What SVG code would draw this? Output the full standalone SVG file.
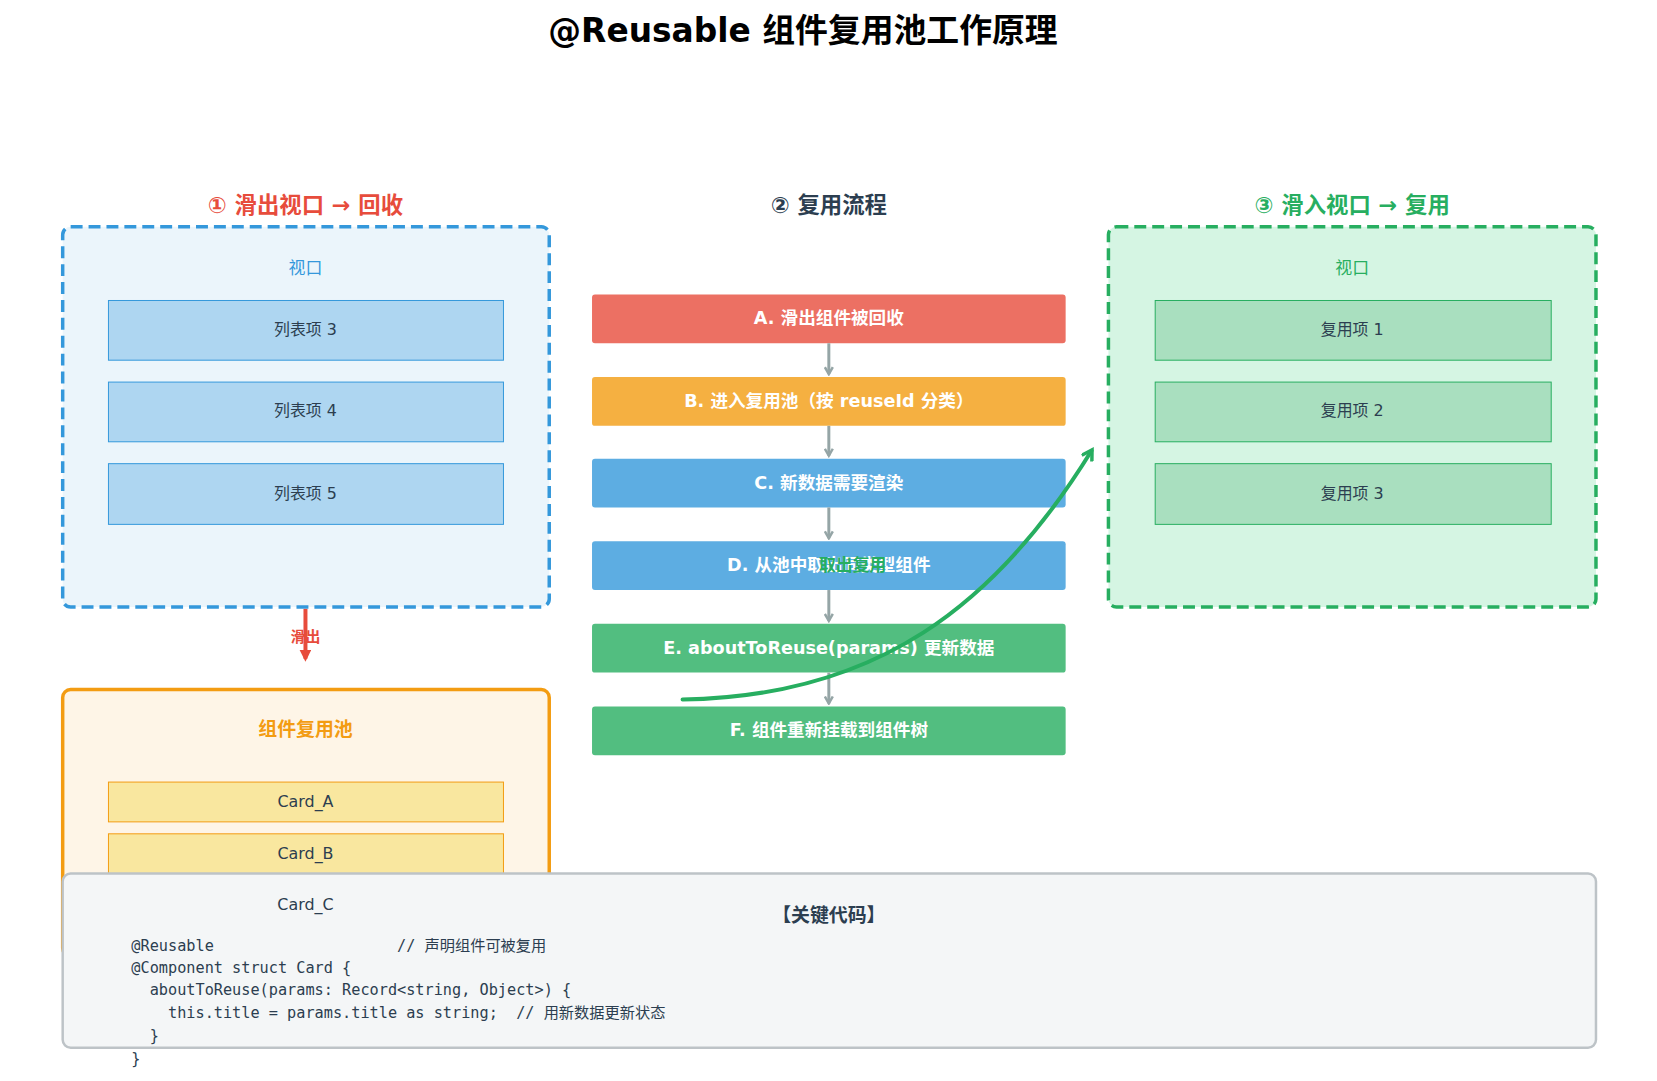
<svg xmlns="http://www.w3.org/2000/svg" width="1657" height="1081" viewBox="0 0 1657 1081">
<defs>
<style>
text{font-family:"DejaVu Sans","Noto Sans CJK SC",sans-serif;text-anchor:middle;dominant-baseline:central}
.hdr{font-size:22.5px;font-weight:bold}
.item{font-size:16px;fill:#2c3e50}
.flow{font-size:17.7px;font-weight:bold;fill:#fff}
.code{font-family:"DejaVu Sans Mono","Noto Sans CJK SC",monospace;font-size:15.3px;fill:#2c3e50;text-anchor:start;dominant-baseline:auto}
.fa{stroke:#95a5a6;stroke-width:3;fill:none;marker-end:url(#ga)}
</style>
<marker id="ga" markerWidth="10" markerHeight="10" refX="8" refY="5" orient="auto" markerUnits="userSpaceOnUse"><path d="M1,1 L8,5 L1,9" fill="none" stroke="#95a5a6" stroke-width="2.5"/></marker>
<marker id="ra" markerWidth="12" markerHeight="12" refX="9" refY="6" orient="auto" markerUnits="userSpaceOnUse"><path d="M0,0 L12,6 L0,12 z" fill="#e74c3c"/></marker>
<marker id="gr" markerWidth="14" markerHeight="14" refX="10" refY="7" orient="auto" markerUnits="userSpaceOnUse"><path d="M1,1 L11,7 L1,13" fill="none" stroke="#27ae60" stroke-width="3.5"/></marker>
</defs>
<rect width="1657" height="1081" fill="#fff"/>
<g transform="scale(0.995)">
<text x="807" y="31" style="font-size:33px;font-weight:bold;fill:#000">@Reusable 组件复用池工作原理</text>
<text x="307" y="206" class="hdr" fill="#e74c3c">① 滑出视口 → 回收</text>
<text x="833" y="206" class="hdr" fill="#2c3e50">② 复用流程</text>
<text x="1359" y="206" class="hdr" fill="#27ae60">③ 滑入视口 → 复用</text>

<g id="viewport-out">
<rect x="63" y="228" width="489" height="382" rx="8" fill="#ebf5fb" stroke="#3498db" stroke-width="3.5" stroke-dasharray="12,6"/>
<text x="307" y="269" font-size="17" fill="#3498db">视口</text>
<rect x="109" y="302" width="397" height="60" fill="#aed6f1" stroke="#3498db"/><text x="307" y="331" class="item">列表项 3</text>
<rect x="109" y="384" width="397" height="60" fill="#aed6f1" stroke="#3498db"/><text x="307" y="413" class="item">列表项 4</text>
<rect x="109" y="466" width="397" height="61" fill="#aed6f1" stroke="#3498db"/><text x="307" y="496" class="item">列表项 5</text>
</g>

<g id="viewport-in">
<rect x="1114" y="228" width="490" height="382" rx="8" fill="#d5f5e3" stroke="#27ae60" stroke-width="3.5" stroke-dasharray="12,6"/>
<text x="1359" y="269" font-size="17" fill="#27ae60">视口</text>
<rect x="1161" y="302" width="398" height="60" fill="#a9dfbf" stroke="#27ae60"/><text x="1359" y="331" class="item">复用项 1</text>
<rect x="1161" y="384" width="398" height="60" fill="#a9dfbf" stroke="#27ae60"/><text x="1359" y="413" class="item">复用项 2</text>
<rect x="1161" y="466" width="398" height="61" fill="#a9dfbf" stroke="#27ae60"/><text x="1359" y="496" class="item">复用项 3</text>
</g>

<g id="flow">
<g id="stepA"><rect x="595" y="296" width="476" height="49" rx="3" fill="#ec7063"/><text x="833" y="320" class="flow">A. 滑出组件被回收</text></g>
<g id="stepB"><rect x="595" y="379" width="476" height="49" rx="3" fill="#f5b041"/><text x="833" y="403" class="flow">B. 进入复用池（按 reuseId 分类）</text></g>
<g id="stepC"><rect x="595" y="461" width="476" height="49" rx="3" fill="#5dade2"/><text x="833" y="485" class="flow">C. 新数据需要渲染</text></g>
<g id="stepD"><rect x="595" y="544" width="476" height="49" rx="3" fill="#5dade2"/><text x="833" y="568" class="flow">D. 从池中取出同类型组件</text></g>
<g id="stepE"><rect x="595" y="627" width="476" height="49" rx="3" fill="#52be80"/><text x="833" y="651" class="flow">E. aboutToReuse(params) 更新数据</text></g>
<g id="stepF"><rect x="595" y="710" width="476" height="49" rx="3" fill="#52be80"/><text x="833" y="734" class="flow">F. 组件重新挂载到组件树</text></g>
</g>

<g id="pool">
<rect x="63" y="693" width="489" height="268" rx="8" fill="#fef5e7" stroke="#f39c12" stroke-width="3.5"/>
<text x="307" y="733" font-size="19" font-weight="bold" fill="#f39c12">组件复用池</text>
<rect x="109" y="786" width="397" height="40" fill="#f9e79f" stroke="#f39c12"/><text x="307" y="806" class="item">Card_A</text>
<rect x="109" y="838" width="397" height="40" fill="#f9e79f" stroke="#f39c12"/><text x="307" y="858" class="item">Card_B</text>
<rect x="109" y="890" width="397" height="40" fill="#f9e79f" stroke="#f39c12"/>
</g>

<g id="connectors">
<line x1="833" y1="345" x2="833" y2="376" class="fa"/>
<line x1="833" y1="428" x2="833" y2="458" class="fa"/>
<line x1="833" y1="510" x2="833" y2="541" class="fa"/>
<line x1="833" y1="593" x2="833" y2="624" class="fa"/>
<line x1="833" y1="676" x2="833" y2="707" class="fa"/>
<line x1="307" y1="612" x2="307" y2="662" stroke="#e74c3c" stroke-width="4" marker-end="url(#ra)"/>
<text x="307" y="640" font-size="15" font-weight="bold" fill="#e74c3c">滑出</text>
<path d="M686,703 C880,700 1000,610 1097,453" fill="none" stroke="#27ae60" stroke-width="4" stroke-linecap="round" marker-end="url(#gr)"/>
<text x="857" y="568" font-size="17" font-weight="bold" fill="#27ae60">取出复用</text>
</g>

<g id="code">
<rect x="63" y="878" width="1541" height="175" rx="8" fill="#f4f6f7" stroke="#bdc3c7" stroke-width="2.5"/>
<text x="833" y="920" font-size="19" font-weight="bold" fill="#2c3e50">【关键代码】</text>
<text x="132" y="956" class="code" xml:space="preserve">@Reusable                    // 声明组件可被复用</text>
<text x="132" y="978" class="code" xml:space="preserve">@Component struct Card {</text>
<text x="132" y="1000" class="code" xml:space="preserve">  aboutToReuse(params: Record&lt;string, Object&gt;) {</text>
<text x="132" y="1023" class="code" xml:space="preserve">    this.title = params.title as string;  // 用新数据更新状态</text>
<text x="132" y="1046" class="code" xml:space="preserve">  }</text>
<text x="132" y="1069" class="code" xml:space="preserve">}</text>
</g>
<text x="307" y="909" class="item">Card_C</text>
</g>
</svg>
